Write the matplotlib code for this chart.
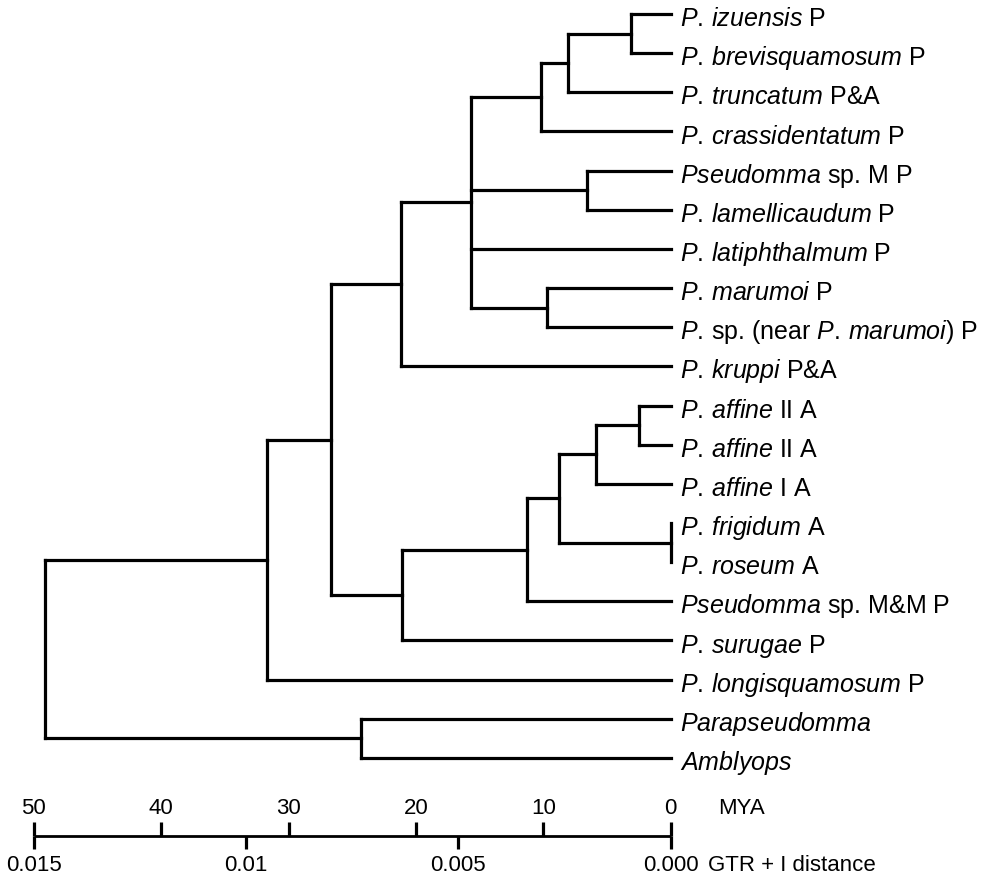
import matplotlib
matplotlib.use("Agg")
import matplotlib.pyplot as plt

plt.rcParams['font.family'] = ['Liberation Sans', 'DejaVu Sans']
plt.rcParams['mathtext.fontset'] = 'custom'
plt.rcParams['mathtext.rm'] = 'Liberation Sans'
plt.rcParams['mathtext.it'] = 'Liberation Sans:italic'
plt.rcParams['mathtext.bf'] = 'Liberation Sans:bold'

# ---------------- data ----------------
tip_names = [
    r"$\mathit{P.\,izuensis}$",
    r"$\mathit{P.\,brevisquamosum}$",
    r"$\mathit{P.\,truncatum}$",
    r"$\mathit{P.\,crassidentatum}$",
    r"$\mathit{Pseudomma}$ sp. M",
    r"$\mathit{P.\,lamellicaudum}$",
    r"$\mathit{P.\,latiphthalmum}$",
    r"$\mathit{P.\,marumoi}$",
    r"$\mathit{P.}\,$sp. (near $\mathit{P.\,marumoi}$)",
    r"$\mathit{P.\,kruppi}$",
    r"$\mathit{P.\,affine}$ II",
    r"$\mathit{P.\,affine}$ II",
    r"$\mathit{P.\,affine}$ I",
    r"$\mathit{P.\,frigidum}$",
    r"$\mathit{P.\,roseum}$",
    r"$\mathit{Pseudomma}$ sp. M&M",
    r"$\mathit{P.\,surugae}$",
    r"$\mathit{P.\,longisquamosum}$",
    r"$\mathit{Parapseudomma}$",
    r"$\mathit{Amblyops}$",
]
tip_region = ["P", "P", "P&A", "P", "P", "P", "P", "P", "P", "P&A",
              "A", "A", "A", "A", "A", "P", "P", "P", "", ""]

# internal nodes: ages (MYA) and children (int = tip index, str = node)
node_ages = {
    "izu": 3.1, "trunc": 8.1, "crass": 10.2, "spM": 6.6, "maru": 9.7,
    "poly": 15.7, "upper": 21.2,
    "affII": 2.5, "affI": 5.9, "frig": 0.0, "affrig": 8.8, "MM": 11.3,
    "lower": 21.1, "pseud": 26.7, "pseudomma": 31.7, "out": 24.3,
    "root": 49.1,
}
node_children = {
    "izu": [0, 1], "trunc": ["izu", 2], "crass": ["trunc", 3],
    "spM": [4, 5], "maru": [7, 8], "poly": ["crass", "spM", 6, "maru"],
    "upper": ["poly", 9],
    "affII": [10, 11], "affI": ["affII", 12], "frig": [13, 14],
    "affrig": ["affI", "frig"], "MM": ["affrig", 15], "lower": ["MM", 16],
    "pseud": ["upper", "lower"], "pseudomma": ["pseud", 17],
    "out": [18, 19], "root": ["pseudomma", "out"],
}

mya_ticks = [50, 40, 30, 20, 10, 0]
dist_ticks = [0.015, 0.01, 0.005, 0.000]
dist_labels = ["0.015", "0.01", "0.005", "0.000"]
mya_per_dist = 50 / 0.015

# ---------------- figure ----------------
W, H = 998, 878
fig = plt.figure(figsize=(W / 100, H / 100), dpi=100)
ax = fig.add_axes([0, 0, 1, 1])
px_per_mya = 12.74
x0 = 670.7
row0, row = 15.0, 39.15
ax.set_xlim(x0 / px_per_mya, (x0 - W) / px_per_mya)
ax.set_ylim((H - row0) / row, -row0 / row)
ax.axis('off')

LW = 2.3
kw = dict(color='black', lw=LW, solid_capstyle='projecting')


def age(n):
    return 0.0 if isinstance(n, int) else node_ages[n]


ycache = {}


def ypos(n):
    if isinstance(n, int):
        return float(n)
    if n not in ycache:
        ch = node_children[n]
        ycache[n] = (ypos(ch[0]) + ypos(ch[-1])) / 2
    return ycache[n]


for n, ch in node_children.items():
    a = node_ages[n]
    ys = [ypos(c) for c in ch]
    ax.plot([a, a], [ys[0], ys[-1]], **kw)
    for c, yc in zip(ch, ys):
        if age(c) != a:
            ax.plot([a, age(c)], [yc, yc], **kw)

FS = 18
for i, (nm, rg) in enumerate(zip(tip_names, tip_region)):
    lab = nm + (" " + rg if rg else "")
    ax.annotate(lab, xy=(0, i), xytext=(6.5, -8), textcoords='offset points',
                ha='left', va='baseline', fontsize=FS)

# ---------------- scale bar ----------------
SFS = 16
ybar = (836.5 - row0) / row
tick = 14 / row
ax.plot([mya_ticks[0], mya_ticks[-1]], [ybar, ybar], color='black', lw=2.0,
        solid_capstyle='butt')
for m in mya_ticks:
    ax.plot([m, m], [ybar, ybar - tick], color='black', lw=2.3,
            solid_capstyle='butt')
    ax.annotate(str(m), xy=(m, ybar), xytext=(0, 20), textcoords='offset points',
                ha='center', va='center', fontsize=SFS)
for d, dl in zip(dist_ticks, dist_labels):
    m = d * mya_per_dist
    ax.plot([m, m], [ybar, ybar + tick], color='black', lw=2.3,
            solid_capstyle='butt')
    ax.annotate(dl, xy=(m, ybar), xytext=(0, -21), textcoords='offset points',
                ha='center', va='center', fontsize=SFS)
ax.annotate("MYA", xy=(0, ybar), xytext=(34, 20), textcoords='offset points',
            ha='left', va='center', fontsize=SFS)
ax.annotate("GTR + I distance", xy=(0, ybar), xytext=(27, -21),
            textcoords='offset points', ha='left', va='center', fontsize=SFS)

fig.savefig("out.png", dpi=100)
